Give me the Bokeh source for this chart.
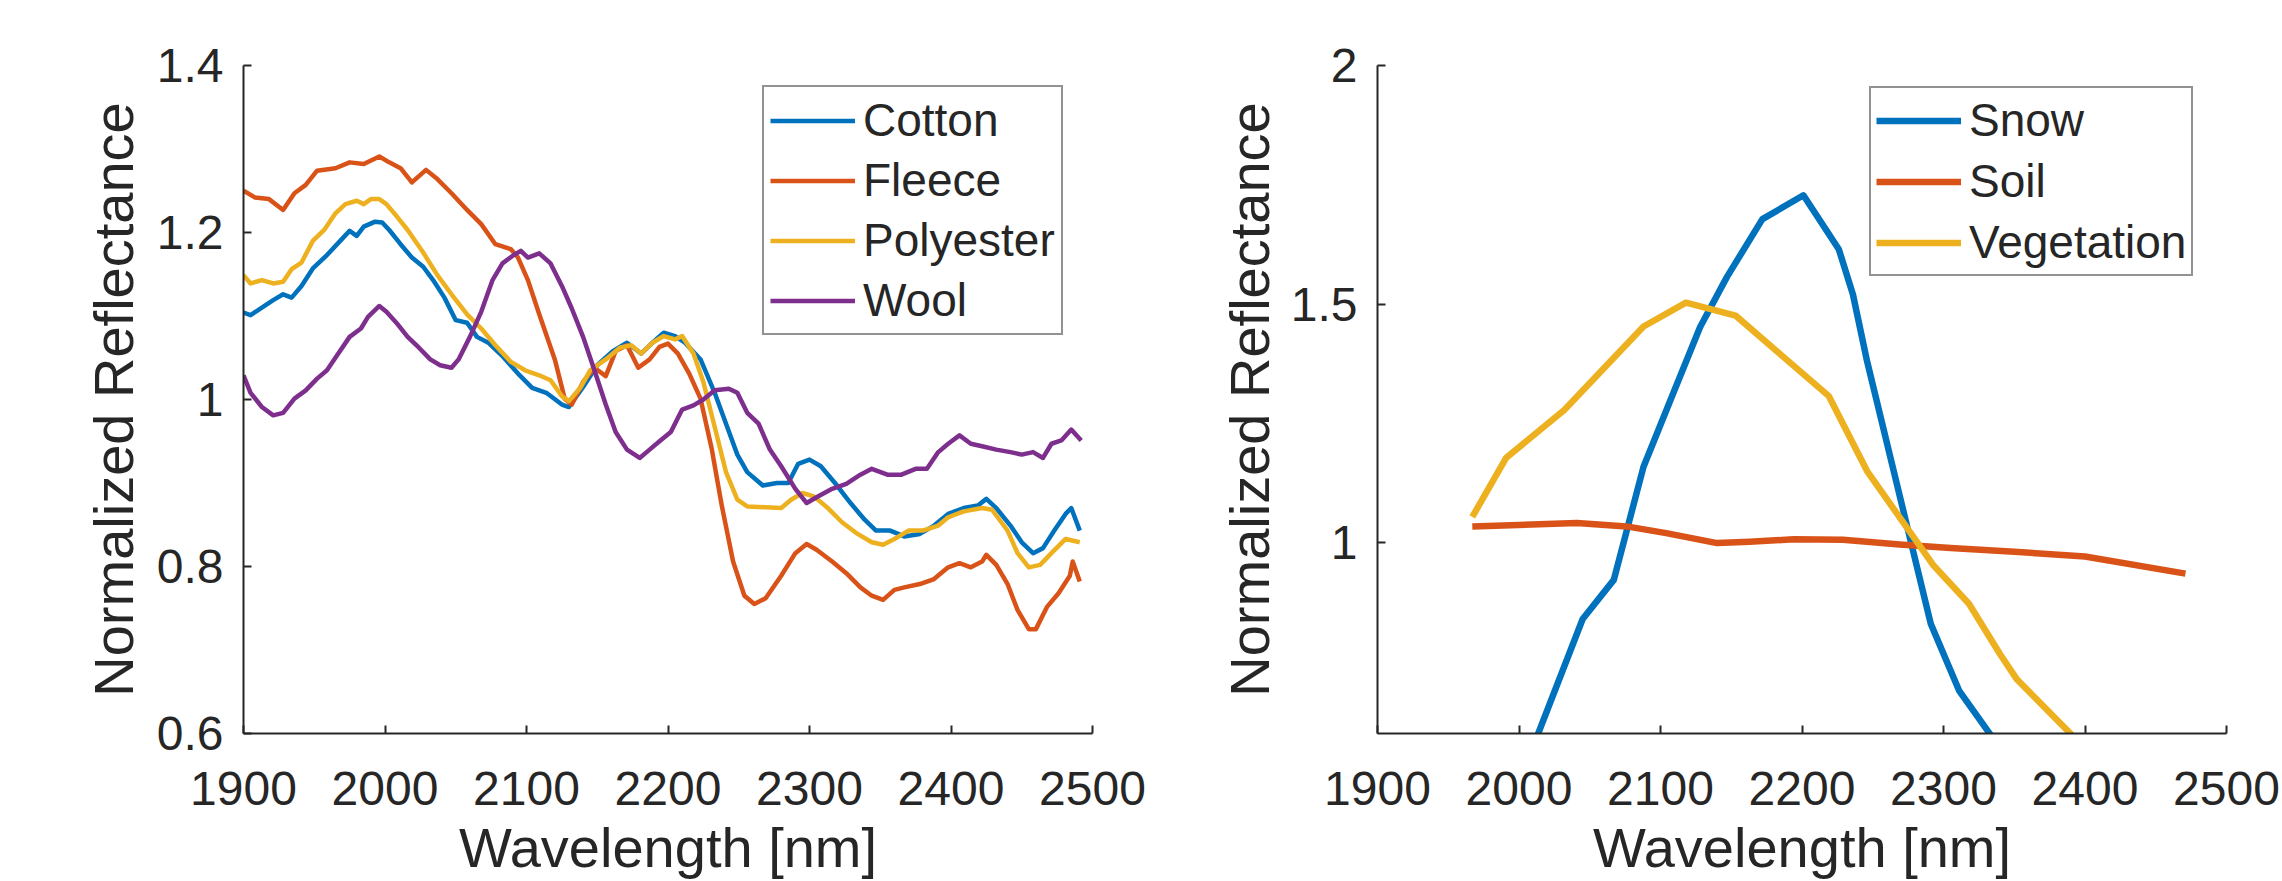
from bokeh.plotting import figure
from bokeh.layouts import row
from bokeh.models import (Range1d, FixedTicker, CustomJSTickFormatter, Legend, LegendItem)
from bokeh.embed import file_html
from bokeh.resources import INLINE

# ---------------- data ----------------
x_ticks = [1900, 2000, 2100, 2200, 2300, 2400, 2500]
left_y_ticks = [0.6, 0.8, 1.0, 1.2, 1.4]
right_y_ticks = [1.0, 1.5, 2.0]

cotton_wl = [1900, 1905, 1913, 1921, 1928, 1934, 1941, 1949, 1959, 1970, 1975, 1980, 1985, 1993,
             1998, 2003, 2011, 2019, 2027, 2034, 2042, 2050, 2058, 2065, 2073, 2083, 2094, 2104,
             2114, 2125, 2130, 2140, 2150, 2161, 2171, 2181, 2189, 2197, 2205, 2212, 2223, 2233,
             2241, 2249, 2256, 2267, 2277, 2285, 2292, 2300, 2308, 2318, 2329, 2339, 2347, 2357,
             2367, 2378, 2388, 2398, 2409, 2419, 2425, 2432, 2442, 2450, 2458, 2465, 2473, 2481,
             2485, 2491]
cotton = [1.104, 1.101, 1.110, 1.119, 1.126, 1.122, 1.136, 1.157, 1.173, 1.193, 1.202, 1.196, 1.207,
          1.213, 1.212, 1.203, 1.186, 1.170, 1.159, 1.143, 1.122, 1.095, 1.092, 1.075, 1.068, 1.052,
          1.031, 1.014, 1.008, 0.994, 0.991, 1.015, 1.041, 1.058, 1.068, 1.055, 1.068, 1.080, 1.076,
          1.068, 1.048, 1.008, 0.971, 0.934, 0.913, 0.897, 0.900, 0.900, 0.923, 0.928, 0.920, 0.900,
          0.876, 0.856, 0.843, 0.843, 0.836, 0.839, 0.849, 0.863, 0.870, 0.873, 0.881, 0.870, 0.849,
          0.829, 0.816, 0.822, 0.843, 0.863, 0.870, 0.843]

fleece_wl = [1900, 1908, 1918, 1928, 1936, 1944, 1952, 1965, 1975, 1985, 1996, 2003, 2011, 2019,
             2029, 2037, 2047, 2058, 2068, 2078, 2089, 2094, 2101, 2109, 2120, 2127, 2132, 2140,
             2148, 2156, 2163, 2171, 2179, 2187, 2194, 2200, 2207, 2215, 2223, 2231, 2238, 2246,
             2254, 2261, 2269, 2280, 2290, 2298, 2305, 2316, 2326, 2336, 2344, 2352, 2360, 2367,
             2378, 2388, 2398, 2406, 2414, 2422, 2425, 2432, 2440, 2447, 2455, 2460, 2468, 2476,
             2484, 2486, 2491]
fleece = [1.250, 1.242, 1.240, 1.227, 1.247, 1.257, 1.274, 1.277, 1.284, 1.282, 1.291, 1.284, 1.277,
          1.260, 1.275, 1.264, 1.247, 1.227, 1.210, 1.186, 1.180, 1.170, 1.143, 1.102, 1.048, 1.001,
          0.994, 1.021, 1.038, 1.028, 1.058, 1.065, 1.038, 1.048, 1.063, 1.067, 1.055, 1.031, 1.001,
          0.940, 0.873, 0.806, 0.765, 0.755, 0.762, 0.789, 0.816, 0.827, 0.820, 0.806, 0.792, 0.775,
          0.765, 0.760, 0.772, 0.775, 0.779, 0.785, 0.799, 0.804, 0.799, 0.806, 0.814, 0.802, 0.779,
          0.748, 0.725, 0.725, 0.752, 0.768, 0.789, 0.806, 0.782]

poly_wl = [1900, 1905, 1913, 1921, 1928, 1934, 1941, 1949, 1957, 1965, 1972, 1980, 1985, 1990, 1996,
           2001, 2008, 2016, 2027, 2037, 2047, 2058, 2068, 2078, 2089, 2099, 2109, 2117, 2125, 2130,
           2138, 2145, 2156, 2166, 2174, 2181, 2189, 2197, 2205, 2210, 2218, 2225, 2233, 2241, 2249,
           2256, 2269, 2280, 2287, 2295, 2303, 2313, 2323, 2334, 2344, 2352, 2360, 2370, 2380, 2391,
           2398, 2409, 2422, 2429, 2440, 2447, 2455, 2463, 2471, 2481, 2491]
polyester = [1.149, 1.139, 1.143, 1.139, 1.141, 1.156, 1.164, 1.190, 1.203, 1.223, 1.234, 1.238, 1.234,
             1.240, 1.240, 1.234, 1.220, 1.203, 1.176, 1.149, 1.126, 1.102, 1.085, 1.065, 1.045, 1.035,
             1.029, 1.023, 1.004, 0.998, 1.014, 1.035, 1.048, 1.062, 1.065, 1.055, 1.068, 1.076, 1.072,
             1.076, 1.055, 1.021, 0.967, 0.913, 0.880, 0.872, 0.871, 0.870, 0.880, 0.888, 0.884, 0.870,
             0.853, 0.839, 0.829, 0.826, 0.833, 0.843, 0.843, 0.849, 0.859, 0.866, 0.870, 0.868, 0.843,
             0.816, 0.799, 0.802, 0.816, 0.833, 0.829]

wool_wl = [1900, 1905, 1913, 1921, 1928, 1936, 1944, 1952, 1959, 1967, 1975, 1983, 1988, 1996, 2001,
           2008, 2016, 2024, 2032, 2039, 2047, 2052, 2060, 2068, 2076, 2083, 2091, 2096, 2101, 2109,
           2117, 2125, 2132, 2140, 2148, 2156, 2163, 2171, 2180, 2187, 2194, 2202, 2210, 2218, 2225,
           2233, 2243, 2249, 2256, 2264, 2272, 2280, 2290, 2298, 2305, 2316, 2326, 2336, 2344, 2355,
           2365, 2375, 2383, 2391, 2398, 2406, 2414, 2422, 2432, 2442, 2450, 2458, 2465, 2471, 2478,
           2485, 2492]
wool = [1.029, 1.008, 0.991, 0.981, 0.984, 1.001, 1.011, 1.025, 1.035, 1.055, 1.075, 1.085, 1.099,
        1.112, 1.105, 1.092, 1.075, 1.062, 1.048, 1.041, 1.038, 1.048, 1.075, 1.105, 1.143, 1.163,
        1.173, 1.178, 1.170, 1.175, 1.163, 1.136, 1.109, 1.075, 1.035, 0.994, 0.961, 0.940, 0.930,
        0.940, 0.950, 0.961, 0.988, 0.993, 1.000, 1.011, 1.013, 1.008, 0.984, 0.971, 0.940, 0.920,
        0.893, 0.876, 0.883, 0.893, 0.899, 0.910, 0.917, 0.910, 0.910, 0.917, 0.917, 0.937, 0.947,
        0.957, 0.947, 0.944, 0.940, 0.937, 0.934, 0.937, 0.930, 0.947, 0.951, 0.964, 0.951]

snow_wl = [1990, 2045, 2067, 2088, 2109, 2128, 2147, 2172, 2201, 2226, 2236, 2246, 2291, 2311, 2335, 2360]
snow = [0.42, 0.84, 0.922, 1.159, 1.313, 1.452, 1.557, 1.678, 1.728, 1.615, 1.52, 1.38, 0.83, 0.69, 0.59, 0.49]

soil_wl = [1967, 2041, 2076, 2104, 2140, 2163, 2194, 2229, 2269, 2305, 2350, 2400, 2471]
soil = [1.034, 1.041, 1.034, 1.020, 0.999, 1.002, 1.007, 1.006, 0.996, 0.989, 0.981, 0.971, 0.935]

veg_wl = [1967, 1991, 2032, 2088, 2118, 2153, 2219, 2246, 2293, 2318, 2340, 2352, 2389, 2410]
vegetation = [1.054, 1.178, 1.278, 1.453, 1.503, 1.476, 1.307, 1.150, 0.952, 0.872, 0.766, 0.713, 0.602, 0.54]

left_names = ["Cotton", "Fleece", "Polyester", "Wool"]
right_names = ["Snow", "Soil", "Vegetation"]
x_label = "Wavelength [nm]"
y_label = "Normalized Reflectance"

# ---------------- styling ----------------
FONT = "Liberation Sans"
INK = "#262626"
COLORS = ["#0072BD", "#D95319", "#EDB120", "#7E2F8E"]
H = 881


def style(p, xt, yt, ylab_standoff):
    p.outline_line_color = None
    p.xgrid.visible = False
    p.ygrid.visible = False
    p.background_fill_color = "white"
    p.border_fill_color = "white"
    for ax in (p.xaxis[0], p.yaxis[0]):
        ax.axis_line_color = INK
        ax.axis_line_width = 2
        ax.major_tick_in = 8
        ax.major_tick_out = 0
        ax.major_tick_line_color = INK
        ax.major_tick_line_width = 2
        ax.minor_tick_line_color = None
        ax.major_label_text_font = FONT
        ax.major_label_text_font_size = "48px"
        ax.major_label_text_color = INK
        ax.axis_label_text_font = FONT
        ax.axis_label_text_font_size = "56px"
        ax.axis_label_text_font_style = "normal"
        ax.axis_label_text_color = INK
        ax.formatter = CustomJSTickFormatter(code="return String(tick);")
    p.xaxis[0].ticker = FixedTicker(ticks=xt)
    p.yaxis[0].ticker = FixedTicker(ticks=yt)
    p.xaxis[0].major_label_standoff = 38
    p.yaxis[0].major_label_standoff = 20
    p.xaxis[0].axis_label = x_label
    p.yaxis[0].axis_label = y_label
    p.xaxis[0].axis_label_standoff = 8
    p.yaxis[0].axis_label_standoff = ylab_standoff


def make_legend(p, items, loc, padding, spacing):
    leg = Legend(items=items, location=loc, label_text_font=FONT, label_text_font_size="46px",
                 label_text_color=INK, glyph_width=85, glyph_height=53, label_height=53,
                 spacing=spacing, padding=padding, label_standoff=8, margin=0,
                 border_line_color=INK, border_line_width=2, background_fill_color="white",
                 background_fill_alpha=1.0)
    p.add_layout(leg)


# ---------------- left figure ----------------
p1 = figure(width=1158, height=H, x_range=Range1d(1900, 2500), y_range=Range1d(0.6, 1.4),
            output_backend="svg", toolbar_location=None,
            min_border_left=243, min_border_right=66, min_border_top=65, min_border_bottom=148)
style(p1, x_ticks, left_y_ticks, 9)
left_series = [(cotton_wl, cotton), (fleece_wl, fleece), (poly_wl, polyester), (wool_wl, wool)]
items1 = []
for (wl, vals), name, col in zip(left_series, left_names, COLORS):
    r = p1.line(wl, vals, line_color=col, line_width=4.5, line_join="round")
    items1.append(LegendItem(label=name, renderers=[r]))
make_legend(p1, items1, (519, 398), 6, 6)

# ---------------- right figure ----------------
p2 = figure(width=1124, height=H, x_range=Range1d(1900, 2500), y_range=Range1d(0.6, 2.0),
            output_backend="svg", toolbar_location=None,
            min_border_left=219, min_border_right=56, min_border_top=65, min_border_bottom=148)
style(p2, x_ticks, right_y_ticks, 7)
right_series = [(snow_wl, snow), (soil_wl, soil), (veg_wl, vegetation)]
items2 = []
for (wl, vals), name, col in zip(right_series, right_names, COLORS):
    r = p2.line(wl, vals, line_color=col, line_width=6.5, line_join="round")
    items2.append(LegendItem(label=name, renderers=[r]))
make_legend(p2, items2, (492, 457), 5, 7)

layout = row(p1, p2)
open("out.html", "w").write(file_html(layout, INLINE))
